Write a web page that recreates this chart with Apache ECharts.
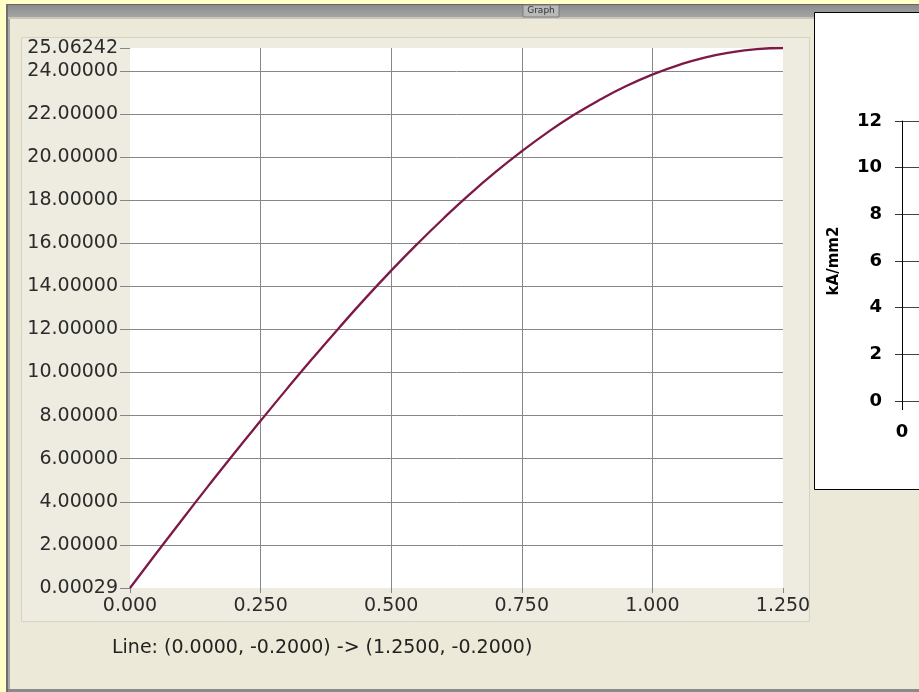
<!DOCTYPE html>
<html>
<head>
<meta charset="utf-8">
<script src="https://cdn.jsdelivr.net/npm/echarts@6/dist/echarts.min.js"></script>
<style>
html,body{margin:0;padding:0;background:#ECE9D8;}
#c{width:919px;height:692px;}
</style>
</head>
<body>
<div id="c"></div>
<script>
// ---- data ----
const xValues = [0.00,0.05,0.10,0.15,0.20,0.25,0.30,0.35,0.40,0.45,0.50,0.55,0.60,0.65,0.70,0.75,0.80,0.85,0.90,0.95,1.00,1.05,1.10,1.15,1.20,1.25];
const yValues = [0.00029,1.60,3.18,4.74,6.27,7.76,9.23,10.67,12.07,13.43,14.73,15.97,17.15,18.27,19.31,20.27,21.16,21.96,22.67,23.30,23.83,24.27,24.62,24.86,25.01,25.06242];
const xTicks = [0, 0.25, 0.5, 0.75, 1.0, 1.25];
const yMin = 0.00029, yMax = 25.06242;
const yMinLabel = '0.00029';
const sideTicks = [0, 2, 4, 6, 8, 10, 12];
const sideAxisName = 'kA/mm2';
const windowTitle = 'Graph';
const lineCaption = 'Line: (0.0000, -0.2000) -> (1.2500, -0.2000)';

const seriesData = xValues.map((x, i) => [x, yValues[i]]);

const chart = echarts.init(document.getElementById('c'), null, {renderer: 'canvas'});
const labelFont = {fontFamily: 'DejaVu Sans', fontSize: 19, color: '#2b2b2b'};
const gridGray = '#878787';

chart.setOption({
  animation: false,
  backgroundColor: '#ECE9D8',
  graphic: [
    {type: 'rect', z: -20, shape: {x: 0, y: 0, width: 6, height: 692}, style: {fill: '#FFFFC6'}},
    {type: 'rect', z: -20, shape: {x: 0, y: 0, width: 919, height: 4}, style: {fill: '#FFFFC6'}},
    {type: 'rect', z: -19, shape: {x: 6, y: 4, width: 2, height: 688}, style: {fill: '#6e6e6e'}},
    {type: 'rect', z: -19, shape: {x: 8, y: 4, width: 2, height: 688}, style: {fill: '#a8a8a8'}},
    {type: 'rect', z: -19, shape: {x: 8, y: 4, width: 911, height: 14},
      style: {fill: new echarts.graphic.LinearGradient(0, 0, 0, 1, [{offset: 0, color: '#8a8a8a'}, {offset: 1, color: '#a6a6a6'}])}},
    {type: 'rect', z: -18, shape: {x: 8, y: 4, width: 911, height: 1}, style: {fill: '#666'}},
    {type: 'rect', z: -18, shape: {x: 8, y: 17, width: 911, height: 2}, style: {fill: '#c9c7bd'}},
    {type: 'rect', z: -17, shape: {x: 523, y: 5, width: 36, height: 12}, style: {fill: '#b9b9b9', stroke: '#7a7a7a', lineWidth: 1}},
    {type: 'text', z: -16, x: 541, y: 11, style: {text: windowTitle, font: '9px "DejaVu Sans"', fill: '#333', align: 'center', verticalAlign: 'middle'}},
    {type: 'rect', z: -15, shape: {x: 21.5, y: 37.5, width: 788, height: 584}, style: {fill: '#EEEBE1', stroke: '#d6d3c4', lineWidth: 1}},
    {type: 'rect', z: -15, shape: {x: 8, y: 689, width: 911, height: 3}, style: {fill: '#8a8a8a'}},
    {type: 'rect', z: -14, shape: {x: 814.5, y: 12.5, width: 110, height: 477}, style: {fill: '#fff', stroke: '#000', lineWidth: 1}},
    {type: 'text', x: 112, y: 648, style: {text: lineCaption, font: '19px "DejaVu Sans"', fill: '#222', align: 'left', verticalAlign: 'middle'}}
  ],
  grid: [
    {left: 130, right: 136, top: 48, bottom: 104, show: true, backgroundColor: '#ffffff', borderWidth: 0},
    {left: 902, right: -300, top: 121, bottom: 291, show: false}
  ],
  xAxis: [
    {
      type: 'value', gridIndex: 0, min: xTicks[0], max: xTicks[xTicks.length - 1], interval: xTicks[1] - xTicks[0],
      axisLine: {show: false},
      axisTick: {show: true, length: 5, lineStyle: {color: gridGray}},
      axisLabel: Object.assign({margin: 9, formatter: v => v.toFixed(3), showMinLabel: true, showMaxLabel: true}, labelFont),
      splitLine: {show: true, showMinLine: false, showMaxLine: false, lineStyle: {color: gridGray, width: 1}}
    },
    {
      type: 'value', gridIndex: 1, min: 0, max: 10, interval: 10,
      axisLine: {show: false},
      axisTick: {show: true, length: 9, lineStyle: {color: '#000'}},
      axisLabel: {margin: 22, fontFamily: 'DejaVu Sans', fontWeight: 'bold', fontSize: 18, color: '#000', formatter: v => (v === 0 ? '0' : '')},
      splitLine: {show: false}
    }
  ],
  yAxis: [
    {
      type: 'value', gridIndex: 0, min: 0, max: yMax, interval: 2,
      axisLine: {show: false},
      axisTick: {show: true, length: 10, lineStyle: {color: gridGray}},
      axisLabel: Object.assign({margin: 12, showMinLabel: true, showMaxLabel: true,
        formatter: v => (v === 0 ? yMinLabel : v.toFixed(5))}, labelFont),
      splitLine: {show: true, showMinLine: false, showMaxLine: false, lineStyle: {color: gridGray, width: 1}}
    },
    {
      type: 'value', gridIndex: 1, min: sideTicks[0], max: sideTicks[sideTicks.length - 1], interval: sideTicks[1] - sideTicks[0],
      axisLine: {show: true, lineStyle: {color: '#000', width: 1}},
      axisTick: {show: true, length: 7, lineStyle: {color: '#333'}},
      axisLabel: {margin: 20, fontFamily: 'DejaVu Sans', fontWeight: 'bold', fontSize: 18, color: '#000'},
      splitLine: {show: true, lineStyle: {color: '#444', width: 1}},
      name: sideAxisName, nameLocation: 'middle', nameRotate: 90, nameGap: 60,
      nameTextStyle: {fontFamily: 'DejaVu Sans', fontWeight: 'bold', fontSize: 15, color: '#000'}
    }
  ],
  series: [
    {
      type: 'line', xAxisIndex: 0, yAxisIndex: 0, data: seriesData,
      showSymbol: false, symbol: 'none', smooth: true,
      lineStyle: {color: '#7E1947', width: 2.3}, z: 5
    }
  ]
});
</script>
</body>
</html>
